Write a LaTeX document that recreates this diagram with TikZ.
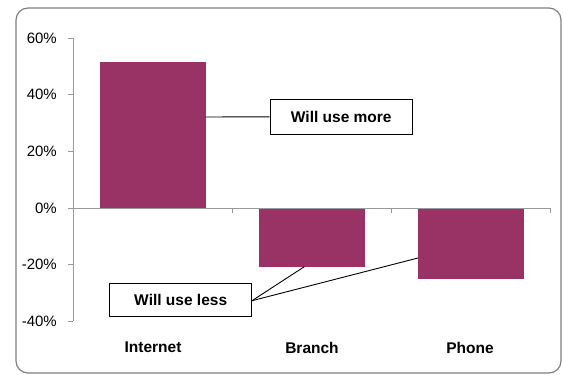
\documentclass[tikz,border=0pt]{standalone}
\usepackage{fontspec}
\setmainfont{Liberation Sans}
\begin{document}
\begin{tikzpicture}[x=1pt,y=-1pt,
  frame/.style={draw=black!50,line width=1.2pt,rounded corners=12pt},
  axisline/.style={draw=black!40,line width=0.9pt},
  barfill/.style={fill=barcol,draw=none,inner sep=0pt,outer sep=0pt},
  ylab/.style={anchor=east,font=\fontsize{15}{17}\selectfont,inner sep=0pt},
  catlab/.style={font=\bfseries\fontsize{15.5}{18}\selectfont,inner sep=0pt},
  callout/.style={draw=black,line width=0.9pt,fill=white,font=\bfseries\fontsize{15.5}{18}\selectfont,inner sep=0pt},
  leader/.style={draw=black,line width=0.9pt}]
\definecolor{barcol}{HTML}{993366}
\useasboundingbox (0,0) rectangle (563,375);
\draw[frame] (16,8) rectangle (561,373);
% bars
\node[barfill,minimum width=106pt,minimum height=146.3pt,anchor=south west] (b1) at (99.5,208) {};
\node[barfill,minimum width=106pt,minimum height=58.7pt,anchor=north west] (b2) at (258.5,208) {};
\node[barfill,minimum width=106pt,minimum height=70.7pt,anchor=north west] (b3) at (417.5,208) {};
% axes
\draw[axisline] (73,38) -- (73,321.3);
\draw[axisline] (73,208) -- (550,208);
\foreach \y/\t in {38/60\%,94.7/40\%,151.3/20\%,208/0\%,264.7/-20\%,321.3/-40\%}{
  \draw[axisline] (68,\y) -- (73,\y);
  \node[ylab] at (57,\y) {\t};
}
\foreach \x in {232,391,550}{
  \draw[axisline] (\x,208) -- (\x,213);
}
% category labels
\node[catlab] (c1) at (153,347.5) {Internet};
\node[catlab] (c2) at (312,347.5) {Branch};
\node[catlab] (c3) at (470,347.5) {Phone};
% callouts
\node[callout,minimum width=142.7pt,minimum height=35pt] (more) at (341.3,116.8) {Will use more};
\node[callout,minimum width=142pt,minimum height=33.3pt] (less) at (180.7,299.7) {Will use less};
\coordinate (p1) at (205.5,117);
\coordinate (p2) at (304.3,266.7);
\coordinate (p3) at (418,258);
\coordinate (lessR) at (252,300.7);
\draw[leader] (p1) -- (more.west);
\draw[leader] (lessR) -- (p2);
\draw[leader] (lessR) -- (p3);
\end{tikzpicture}
\end{document}
